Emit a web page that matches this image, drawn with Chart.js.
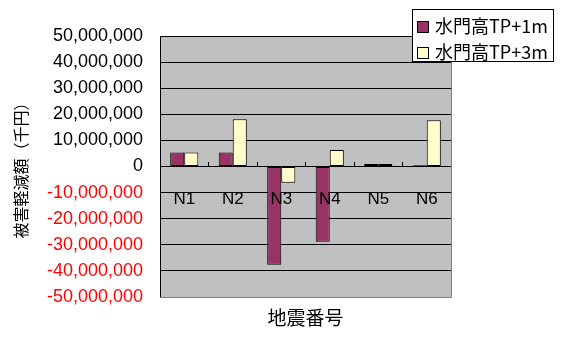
<!DOCTYPE html>
<html>
<head>
<meta charset="utf-8">
<script src="https://cdn.jsdelivr.net/npm/chart.js@4/dist/chart.umd.min.js"></script>
<style>
  body { margin: 0; background: #fff; }
  #wrap { position: relative; width: 564px; height: 338px; }
  #legend {
    position: absolute; left: 412px; top: 9px; width: 140px; height: 51px;
    background: #fff; border: 1px solid #000;
    font-family: "Noto Sans CJK JP", sans-serif; font-size: 18px; color: #000;
  }
  #legend .row { position: absolute; left: 4px; height: 24px; line-height: 24px; white-space: nowrap; }
  #legend .box { display: inline-block; width: 10px; height: 10px; border: 1px solid #000; margin-right: 6px; vertical-align: 0px; }
</style>
</head>
<body>
<div id="wrap">
  <canvas id="damage" width="564" height="338"></canvas>
  <div id="legend"></div>
</div>
<script>
// 地震ケース
const categories = ['N1', 'N2', 'N3', 'N4', 'N5', 'N6'];
// 被害軽減額（千円）
const gateTP1 = [5400000, 5400000, -37600000, -28800000, 1000000, 500000];
const gateTP3 = [5400000, 18100000, -6200000, 6300000, 1000000, 17700000];
const seriesNames = ['水門高TP+1m', '水門高TP+3m'];
const seriesColors = ['#993366', '#FFFFCC'];
const yTicks = [50000000, 40000000, 30000000, 20000000, 10000000, 0, -10000000, -20000000, -30000000, -40000000, -50000000];

// 灰色のプロットエリアと枠
const plotArea = {
  id: 'plotArea',
  beforeDraw(chart) {
    const { ctx, chartArea: a } = chart;
    ctx.save();
    ctx.fillStyle = '#C0C0C0';
    ctx.fillRect(a.left, a.top, a.right - a.left, a.bottom - a.top);
    ctx.restore();
  },
  afterDraw(chart) {
    const { ctx, chartArea: a } = chart;
    ctx.save();
    ctx.strokeStyle = '#808080';
    ctx.lineWidth = 1;
    ctx.beginPath();
    ctx.moveTo(a.right + 0.5, a.top);
    ctx.lineTo(a.right + 0.5, a.bottom + 0.5);
    ctx.lineTo(a.left, a.bottom + 0.5);
    ctx.stroke();
    ctx.restore();
  }
};

const datasets = [gateTP1, gateTP3].map((values, i) => ({
  label: seriesNames[i],
  data: values,
  backgroundColor: seriesColors[i],
  borderColor: '#000000',
  borderWidth: 1,
  borderSkipped: false,
  categoryPercentage: 0.58,
  barPercentage: 1.0,
  xAxisID: 'x',
  yAxisID: 'y'
}));

new Chart(document.getElementById('damage'), {
  type: 'bar',
  data: { labels: categories, datasets: datasets },
  plugins: [plotArea],
  options: {
    responsive: false,
    animation: false,
    layout: { padding: { top: 36, right: 113, bottom: 0, left: 0 } },
    plugins: {
      legend: { display: false },
      tooltip: { enabled: false }
    },
    scales: {
      x: {
        type: 'category',
        position: 'bottom',
        offset: true,
        grid: { display: false },
        border: { display: false },
        ticks: { display: false },
        title: {
          display: true,
          text: '地震番号',
          color: '#000',
          font: { family: 'Noto Sans CJK JP', size: 19 },
          padding: { top: 9, bottom: 9 }
        },
        afterFit(scale) { scale.height = 41; }
      },
      // ゼロの位置の横軸（ラベルは棒の上に描く）
      xz: {
        type: 'category',
        labels: categories,
        position: { y: 0 },
        offset: true,
        grid: { offset: true, drawOnChartArea: false, drawTicks: true, tickLength: -5, color: '#000' },
        border: { display: true, color: '#000', width: 1 },
        ticks: {
          z: 1,
          color: '#000',
          padding: 28,
          font: { family: 'Liberation Sans', size: 17 },
          maxRotation: 0
        }
      },
      y: {
        type: 'linear',
        position: 'left',
        min: -50000000,
        max: 50000000,
        afterBuildTicks(scale) { scale.ticks = yTicks.map(v => ({ value: v })); },
        grid: {
          drawTicks: false,
          color: ctx => (ctx.tick && ctx.tick.value === -50000000) ? '#808080' : '#000000',
          lineWidth: 1
        },
        border: { display: true, color: '#000', width: 1 },
        ticks: {
          padding: 17,
          font: { family: 'Liberation Sans', size: 18 },
          color: ctx => ctx.tick.value < 0 ? '#FF0000' : '#000000',
          callback: v => Number(v).toLocaleString('en-US')
        },
        title: {
          display: true,
          text: '被害軽減額（千円）',
          color: '#000',
          font: { family: 'Noto Sans CJK JP', size: 16 },
          padding: { top: 11, bottom: 11 }
        },
        afterFit(scale) { scale.width = 160; }
      }
    }
  }
});

// 凡例
const legend = document.getElementById('legend');
seriesNames.forEach((name, i) => {
  const row = document.createElement('div');
  row.className = 'row';
  row.style.top = (3 + i * 26) + 'px';
  const box = document.createElement('span');
  box.className = 'box';
  box.style.background = seriesColors[i];
  row.appendChild(box);
  row.appendChild(document.createTextNode(name));
  legend.appendChild(row);
});
</script>
</body>
</html>
